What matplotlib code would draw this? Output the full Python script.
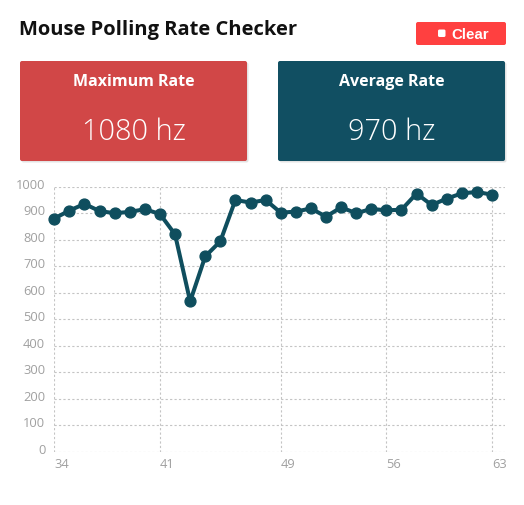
import matplotlib.pyplot as plt
from matplotlib.patches import FancyBboxPatch
from matplotlib.transforms import ScaledTranslation

# polling samples
samples = list(range(34, 64))
rates = [880, 910, 935, 908, 900, 905, 915, 897, 820, 567,
         737, 794, 950, 940, 950, 902, 906, 918, 887, 922,
         900, 916, 911, 913, 974, 931, 955, 975, 980, 970]
x_ticks = [34, 41, 49, 56, 63]
y_ticks = list(range(0, 1001, 100))

max_label = "1080 hz"
avg_label = "970 hz"

W, H = 524, 506
fig = plt.figure(figsize=(W / 100, H / 100), dpi=100)
fig.patch.set_facecolor('white')

# background layer in pixel coordinates for header and cards
bg = fig.add_axes([0, 0, 1, 1])
bg.set_xlim(0, W)
bg.set_ylim(H, 0)
bg.axis('off')
bg.set_zorder(0)

bg.text(19, 30, "Mouse Polling Rate Checker", fontsize=14.5, fontweight='bold',
        family='Open Sans', color='#111111', va='center', ha='left')

# clear button
bg.add_patch(FancyBboxPatch((416, 23), 90, 23, boxstyle="round,pad=0,rounding_size=2",
                            fc='#ff4040', ec='none'))
bg.add_patch(FancyBboxPatch((438, 30.5), 7.5, 7.5, boxstyle="round,pad=0,rounding_size=1.5",
                            fc='white', ec='none'))
bg.text(451, 34.5, "Clear", fontsize=10.8, fontweight='bold', family='Liberation Sans',
        color='white', va='center', ha='left')

cards = [(20, '#d14747', "Maximum Rate", max_label),
         (278, '#114f62', "Average Rate", avg_label)]
for x0, col, title, val in cards:
    bg.add_patch(FancyBboxPatch((x0 + 1.5, 63.5), 227, 100, boxstyle="round,pad=0,rounding_size=2",
                                fc='#dddddd', ec='none', alpha=0.8))
    bg.add_patch(FancyBboxPatch((x0, 62), 227, 100, boxstyle="round,pad=0,rounding_size=2",
                                fc=col, ec='none'))
    bg.text(x0 + 113.5, 82, title, fontsize=11.5, fontweight='bold', family='Open Sans',
            color='white', ha='center', va='center')
    bg.text(x0 + 113.5, 132, val, fontsize=20.8, fontweight='light', family='Open Sans',
            color='white', ha='center', va='center')

# chart
left, right, top, bottom = 54.3, 505, 187.7, 452.7
ax = fig.add_axes([left / W, (H - bottom) / H, (right - left) / W, (bottom - top) / H])
ax.set_zorder(1)
ax.patch.set_alpha(0)

ax.plot(samples, rates, color='#0f4e5e', lw=2.9, marker='o', ms=7.8,
        solid_joinstyle='round', clip_on=False, zorder=3)

ax.set_xlim(34, 63.86)
ax.set_ylim(0, 1000)
ax.set_xticks(x_ticks)
ax.set_yticks(y_ticks)
for s in ax.spines.values():
    s.set_visible(False)

ax.grid(True, color='#c4c4c4', lw=0.8, linestyle=(0, (2, 2)))
ax.tick_params(length=0, labelcolor='#a0a0a0', labelsize=9.3)
ax.tick_params(axis='y', pad=6.5)
ax.tick_params(axis='x', pad=3.5)
for lab in ax.get_yticklabels():
    lab.set_family('Open Sans')
    lab.set_transform(lab.get_transform() + ScaledTranslation(0, 4 / 100, fig.dpi_scale_trans))
for lab in ax.get_xticklabels():
    lab.set_family('Open Sans')
    lab.set_horizontalalignment('left')

fig.savefig('out.png', dpi=100)
